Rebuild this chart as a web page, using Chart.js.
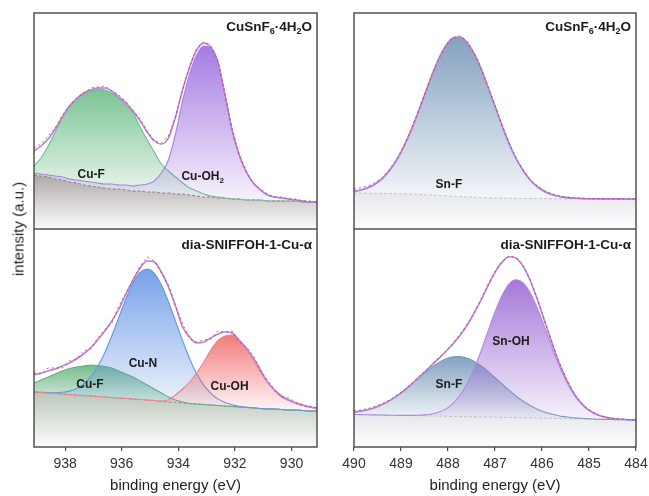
<!DOCTYPE html>
<html>
<head>
<meta charset="utf-8">
<script src="https://cdn.jsdelivr.net/npm/chart.js@4.4.1/dist/chart.umd.min.js"></script>
<style>
  html, body { margin: 0; padding: 0; background: #fff; overflow: hidden; }
  #fig { position: relative; width: 649px; height: 496px; font-family: "Liberation Sans", Arial, sans-serif; }
  #fig canvas { position: absolute; }
  #ylab {
    position: absolute; left: 18px; top: 229px;
    transform: translate(-50%, -50%) rotate(-90deg);
    font-size: 15px; color: #222; white-space: nowrap;
  }
</style>
</head>
<body>
<div id="fig">
  <canvas id="tl" width="323" height="217" style="left:14px;top:12px"></canvas>
  <canvas id="bl" width="323" height="267" style="left:14px;top:229px"></canvas>
  <canvas id="tr" width="322" height="217" style="left:334px;top:12px"></canvas>
  <canvas id="br" width="322" height="267" style="left:334px;top:229px"></canvas>
  <div id="ylab">intensity (a.u.)</div>
</div>
<script>
/* ─── Data (intensities in arbitrary units) ──────────────────────────────── */
const cuEnergy = [939.1, 938.85, 938.6, 938.35, 938.1, 937.85, 937.6, 937.35, 937.1, 936.85,
  936.6, 936.35, 936.1, 935.85, 935.6, 935.35, 935.1, 934.85, 934.6, 934.35,
  934.1, 933.85, 933.6, 933.35, 933.1, 932.85, 932.6, 932.35, 932.1, 931.85,
  931.6, 931.35, 931.1, 930.85, 930.6, 930.35, 930.1, 929.85, 929.6, 929.35, 929.1];
const snEnergy = [490, 489.85, 489.7, 489.55, 489.4, 489.25, 489.1, 488.95, 488.8, 488.65,
  488.5, 488.35, 488.2, 488.05, 487.9, 487.75, 487.6, 487.45, 487.3, 487.15,
  487, 486.85, 486.7, 486.55, 486.4, 486.25, 486.1, 485.95, 485.8, 485.65,
  485.5, 485.35, 485.2, 485.05, 484.9, 484.75, 484.6, 484.45, 484.3, 484.15, 484];

const cuTicks = [938, 936, 934, 932, 930];
const snTicks = [490, 489, 488, 487, 486, 485, 484];

/* Cu 2p, CuSnF6·4H2O */
const tlBackground = [54,53,52,50,49,47,46,44,43,42,41,40,40,39,38,38,37,37,36,36,35,35,34,33,32,32,31,31,30,30,29,29,29,28,28,28,28,28,27,27,27];
const tlCuF        = [63,71,83,97,111,122,130,135,138,140,139,136,131,124,116,102,89,77,65,58,52,46,41,38,35,33,32,31,30,30,29,29,29,28,28,28,28,28,27,27,27];
const tlCuOH2      = [56,55,54,53,52,50,49,48,47,46,45,45,44,44,43,44,45,48,56,69,95,128,155,174,183,181,166,134,99,74,57,46,39,34,32,31,30,29,28,27,27];
const tlEnvelope   = [78,83,90,100,112,123,130,136,139,141,141,138,132,126,118,108,97,88,85,91,112,139,162,179,186,182,167,134,99,74,57,46,39,34,32,31,30,29,28,27,27];
const tlData       = [81,85,93,101,114,123,131,136,141,142,143,138,134,127,118,110,98,88,86,93,112,140,162,181,187,182,168,134,100,74,58,46,40,35,32,32,30,30,28,28,27];

/* Cu 2p, dia-SNIFFOH-1-Cu-α */
const blBackground = [55,54.5,54,53.5,53,52.5,52,51.5,51,50.5,50,49.5,49,48.5,48,47.5,47,46.5,45.5,45,44.5,44,43.5,43,42.5,42,41.5,41,40.5,40,39.5,39,38.5,38,38,37.5,37,37,36.5,36,36];
const blCuF        = [64,67,70,73,76,78.5,80,81,82,81.5,80.5,79,76,73,70,66,62,58,54,50,47,45,43.5,43,42.5,42,41.5,41,40.5,40,39.5,39,38.5,38,38,37.5,37,37,36.5,36,36];
const blCuN        = [55,54.7,54.4,54.3,54.7,55.9,58.5,63,70.1,80.5,94.3,111.2,129.8,148.3,164,174.5,178,173.7,161.9,145.3,125.9,106.2,88.3,73.3,61.9,53.7,48.1,44.5,42.3,40.8,39.9,39.2,38.5,38,38,37.5,37,37,36.5,36,36];
const blCuOH       = [55,54.5,54,53.5,53,52.5,52,51.5,51,50.5,50,49.5,49,48.5,48,47.5,47,46.5,46,47,52,58,65,74,85,97,106.5,111,112,106,98,87.5,75.5,64.5,56.5,50,46.5,43.5,41.5,39.5,38.5];
const blEnvelope   = [72,74,76,78,81,84,88,93,99,107,116,126,138,153,167,179,186,185,175,160,141,120,110,104,105,109,113,115,114,107,99,89,77,65,57,51,47,44,42,40,39];
const blData       = [74,73,79,79,79,86,88,96,98,109,117,124,141,154,167,181,190,186,174,162,141,123,108,105,107,108,116,115,116,105,100,92,76,67,57,50,49,45,41,41,39];

/* Sn 3d, CuSnF6·4H2O */
const trBackground = [36,35.9,35.8,35.7,35.6,35.5,35.3,35.1,34.9,34.6,34.3,34,33.6,33.2,32.8,32.4,32,31.7,31.4,31.2,31,30.9,30.8,30.7,30.6,30.5,30.4,30.4,30.3,30.3,30.2,30.2,30.2,30.1,30.1,30.1,30,30,30,30,30];
const trSnF        = [37.5,38.8,41,44.5,50,57.8,68,81,96.5,114.5,133.5,152.5,169.5,182.5,190.5,191.5,186.5,175.5,160.5,141.5,122.5,103,85,70,58,48.5,42,37.3,34.3,32.5,31.3,30.8,30.5,30.2,30.1,30.1,30,30,30,30,30];
const trEnvelope   = [37.9,39.3,41.6,45.2,50.6,58.4,68.5,81.6,97.2,115,134,153,170,183,191,192,187,176,161,142,123,103.5,85.5,70.5,58.5,49,42.5,37.8,34.7,32.8,31.6,31,30.6,30.3,30.2,30.2,30.1,30.1,30.1,30,30];
const trData       = [40,41.5,43,46.5,51.5,59.5,69,82,98,115.5,134.5,153.5,170,183.5,191.5,193,188,176.5,161.5,142.5,123.5,104,86,71,59,49.5,43,38.3,35.2,33.2,31.9,31.2,30.8,30.5,30.3,30.2,30.2,30.1,30.1,30,30];

/* Sn 3d, dia-SNIFFOH-1-Cu-α */
const brBackground = [32.5,32.4,32.2,32.1,32,31.8,31.7,31.5,31.4,31.3,31.1,31,30.9,30.7,30.6,30.4,30.3,30.2,30,29.9,29.8,29.6,29.5,29.3,29.2,29.1,28.9,28.8,28.7,28.5,28.4,28.2,28.1,28,27.8,27.7,27.6,27.4,27.3,27.1,27];
const brSnF        = [34.8,35.9,37.4,39.6,42.5,46.1,50.6,55.8,61.6,67.8,73.8,79.6,84.4,88,90.1,90.4,88.9,85.8,81.2,75.6,69.4,63,56.7,50.8,45.8,41.4,37.8,35,33,31.3,30.2,29.3,28.8,28.4,28,27.7,27.6,27.4,27.3,27.1,27];
const brSnOH       = [32.5,32.4,32.2,32.1,32,31.8,31.7,31.6,31.6,31.7,32.1,33,34.8,37.9,43.2,51.2,62.6,77.7,95.5,115.5,135,151.5,163.1,167.3,164,154,138.8,120.4,101.4,83,67.4,54.6,45.1,38.3,33.8,31,29.3,28.2,27.7,27.3,27.1];
const brEnvelope   = [34.8,35.9,37.4,39.6,42.5,46.1,50.6,55.9,61.8,68.2,74.8,81.6,88.3,95.2,102.7,111.2,121.2,133.3,146.7,161.2,174.6,184.9,190.3,188.8,180.6,166.3,147.7,126.6,105.7,85.8,69.2,55.7,45.8,38.7,34,31,29.3,28.2,27.7,27.3,27.1];
const brData       = [36,37,38.5,40.5,43.5,47,51.5,56.5,62.5,69,75.5,82,89,96,103.5,112,122,134,147.5,162,175.5,185.5,191,189.5,181,167,148.5,127.5,106.5,86.5,70,56,46,39,34.3,31.2,29.5,28.3,27.8,27.4,27.2];

/* ─── Helpers ────────────────────────────────────────────────────────────── */
const FONT = '"Liberation Sans", Arial, sans-serif';

function pts(energy, vals) {
  return energy.map((e, i) => ({ x: e, y: vals[i] }));
}

// vertical gradient from the dataset's highest point down to its lowest
function fade(rgb, topA, botA) {
  return (c) => {
    const chart = c.chart;
    const a = chart.chartArea;
    if (!a || c.datasetIndex === undefined) return `rgba(${rgb},${topA})`;
    const ys = chart.data.datasets[c.datasetIndex].data.map(p => p.y);
    const y0 = chart.scales.y.getPixelForValue(Math.max(...ys));
    const y1 = Math.max(chart.scales.y.getPixelForValue(Math.min(...ys)), y0 + 10);
    const g = chart.ctx.createLinearGradient(0, y0, 0, y1);
    g.addColorStop(0, `rgba(${rgb},${topA})`);
    g.addColorStop(1, `rgba(${rgb},${botA})`);
    return g;
  };
}

function component(energy, vals, rgb, line, bgIndex) {
  return {
    data: pts(energy, vals), borderColor: line, borderWidth: 1.1,
    backgroundColor: fade(rgb, 0.85, 0.08), fill: bgIndex,
    pointRadius: 0, cubicInterpolationMode: 'monotone'
  };
}

function envelope(energy, vals) {
  return {
    data: pts(energy, vals), borderColor: 'rgb(178,132,228)', borderWidth: 1.6,
    fill: false, pointRadius: 0, cubicInterpolationMode: 'monotone'
  };
}

function measured(energy, vals) {
  return {
    data: pts(energy, vals), borderColor: 'rgba(228,40,40,0.8)', borderWidth: 1,
    borderDash: [2, 3], fill: false, pointRadius: 0, tension: 0
  };
}

function background(energy, vals, rgb, line, topA) {
  return {
    data: pts(energy, vals), borderColor: line, borderWidth: 1, borderDash: [3, 2],
    backgroundColor: (c) => {
      const a = c.chart.chartArea;
      if (!a) return `rgba(${rgb},0.5)`;
      const y0 = c.chart.scales.y.getPixelForValue(Math.max(...vals));
      const g = c.chart.ctx.createLinearGradient(0, y0, 0, a.bottom);
      g.addColorStop(0, `rgba(${rgb},${topA})`);
      g.addColorStop(1, `rgba(${rgb},0.03)`);
      return g;
    },
    fill: 'start', pointRadius: 0, cubicInterpolationMode: 'monotone'
  };
}

function drawRich(ctx, parts, x, y, align, size) {
  const big = `bold ${size}px ${FONT}`;
  const small = `bold ${Math.round(size * 0.68)}px ${FONT}`;
  let w = 0;
  parts.forEach(([t, sub]) => { ctx.font = sub ? small : big; w += ctx.measureText(t).width; });
  let cx = align === 'right' ? x - w : align === 'center' ? x - w / 2 : x;
  ctx.textAlign = 'left';
  ctx.textBaseline = 'middle';
  parts.forEach(([t, sub]) => {
    ctx.font = sub ? small : big;
    ctx.fillText(t, cx, sub ? y + size * 0.32 : y);
    cx += ctx.measureText(t).width;
  });
}

/* peak labels, panel title and frame */
const panelDecor = {
  id: 'panelDecor',
  afterDatasetsDraw(chart, args, opts) {
    const { ctx, chartArea: a, scales: { x, y } } = chart;
    ctx.save();
    ctx.fillStyle = '#1b1b1b';
    (opts.peaks || []).forEach(p =>
      drawRich(ctx, p.text, x.getPixelForValue(p.x), y.getPixelForValue(p.y), 'center', 12));
    drawRich(ctx, opts.title, a.right - 5, a.top + opts.titleDy, 'right', 13.5);
    ctx.strokeStyle = '#474747';
    ctx.lineWidth = 1.4;
    ctx.strokeRect(a.left, a.top, a.right - a.left, a.bottom - a.top);
    ctx.restore();
  }
};

function makeChart(id, datasets, range, ticks, decor, bottom) {
  const xScale = {
    type: 'linear', reverse: true, min: range[0], max: range[1],
    display: bottom,
    afterBuildTicks: s => { s.ticks = ticks.map(v => ({ value: v })); },
    ticks: { font: { size: 14, family: FONT }, color: '#333', padding: 5, maxRotation: 0, autoSkip: false },
    grid: { drawOnChartArea: false, tickLength: 4, color: '#474747', lineWidth: 1.2 },
    border: { display: false },
    title: { display: true, text: 'binding energy (eV)', font: { size: 15, family: FONT }, color: '#222', padding: { top: 0, bottom: 1 } }
  };
  if (bottom) xScale.afterFit = s => { s.height = 49; };
  return new Chart(document.getElementById(id), {
    type: 'line',
    data: { datasets },
    options: {
      responsive: false, animation: false, devicePixelRatio: 1, events: [],
      layout: { padding: { left: 20, right: 20, top: bottom ? 0 : 1, bottom: 0 } },
      plugins: { legend: { display: false }, tooltip: { enabled: false }, panelDecor: decor },
      scales: { x: xScale, y: { display: false, min: 0, max: bottom ? 218 : 216 } }
    },
    plugins: [panelDecor]
  });
}

/* ─── Panels ─────────────────────────────────────────────────────────────── */
const titleCu = [['CuSnF', 0], ['6', 1], ['·4H', 0], ['2', 1], ['O', 0]];
const titleMof = [['dia-SNIFFOH-1-Cu-α', 0]];

makeChart('tl', [
  measured(cuEnergy, tlData),
  envelope(cuEnergy, tlEnvelope),
  component(cuEnergy, tlCuOH2, '150,100,222', 'rgb(170,130,225)', 4),
  component(cuEnergy, tlCuF, '100,185,128', 'rgb(110,190,140)', 4),
  background(cuEnergy, tlBackground, '150,140,140', 'rgba(110,100,100,0.8)', 0.75)
], [929.1, 939.1], cuTicks, {
  title: titleCu, titleDy: 14,
  peaks: [
    { text: [['Cu-F', 0]], x: 937.08, y: 54 },
    { text: [['Cu-OH', 0], ['2', 1]], x: 933.14, y: 52 }
  ]
}, false);

makeChart('bl', [
  measured(cuEnergy, blData),
  envelope(cuEnergy, blEnvelope),
  component(cuEnergy, blCuOH, '240,100,100', 'rgb(240,130,130)', 5),
  component(cuEnergy, blCuN, '95,145,228', 'rgb(100,150,228)', 5),
  component(cuEnergy, blCuF, '95,175,120', 'rgb(100,175,125)', 5),
  background(cuEnergy, blBackground, '140,160,140', 'rgba(110,125,110,0.8)', 0.6)
], [929.1, 939.1], cuTicks, {
  title: titleMof, titleDy: 16,
  peaks: [
    { text: [['Cu-N', 0]], x: 935.25, y: 83 },
    { text: [['Cu-F', 0]], x: 937.12, y: 62 },
    { text: [['Cu-OH', 0]], x: 932.19, y: 60 }
  ]
}, true);

makeChart('tr', [
  measured(snEnergy, trData),
  envelope(snEnergy, trEnvelope),
  component(snEnergy, trSnF, '110,145,180', 'rgb(120,150,185)', 3),
  background(snEnergy, trBackground, '215,217,224', 'rgba(170,170,175,0.6)', 0.6)
], [484, 490], snTicks, {
  title: titleCu, titleDy: 14,
  peaks: [{ text: [['Sn-F', 0]], x: 487.98, y: 44 }]
}, false);

makeChart('br', [
  measured(snEnergy, brData),
  envelope(snEnergy, brEnvelope),
  component(snEnergy, brSnOH, '150,95,210', 'rgb(175,135,225)', 4),
  component(snEnergy, brSnF, '110,145,180', 'rgb(120,155,190)', 4),
  background(snEnergy, brBackground, '215,217,224', 'rgba(170,170,175,0.6)', 0.6)
], [484, 490], snTicks, {
  title: titleMof, titleDy: 16,
  peaks: [
    { text: [['Sn-OH', 0]], x: 486.66, y: 105 },
    { text: [['Sn-F', 0]], x: 487.98, y: 62 }
  ]
}, true);
</script>
</body>
</html>
